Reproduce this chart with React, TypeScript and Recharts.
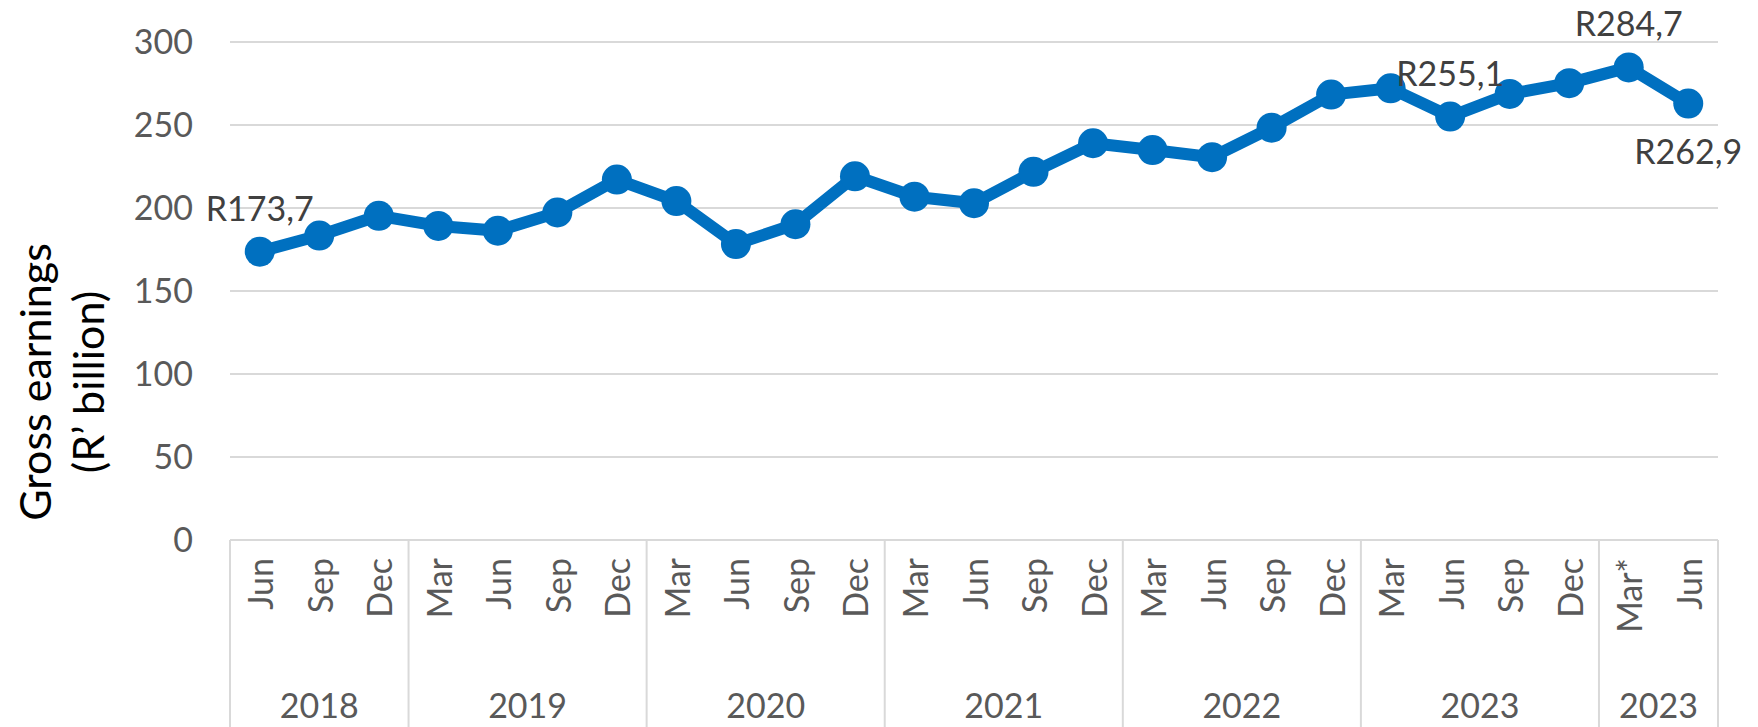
import { CartesianGrid, LabelList, Line, LineChart, XAxis, YAxis } from "recharts";

const months = [
  "Jun", "Sep", "Dec",
  "Mar", "Jun", "Sep", "Dec",
  "Mar", "Jun", "Sep", "Dec",
  "Mar", "Jun", "Sep", "Dec",
  "Mar", "Jun", "Sep", "Dec",
  "Mar", "Jun", "Sep", "Dec",
  "Mar*", "Jun",
];
const yearGroups = ["2018", "2019", "2020", "2021", "2022", "2023", "2023"];
const groupSizes = [3, 4, 4, 4, 4, 4, 2];
const earnings = [
  173.7, 183.4, 195.3, 189.2, 186.3, 197.3, 217.1, 204.2, 178.3, 190.2, 219.1, 206.8, 202.9,
  221.8, 239.0, 234.9, 230.6, 248.4, 268.3, 272.1, 255.1, 268.7, 275.2, 284.7, 262.9,
];
const yTicks = [0, 50, 100, 150, 200, 250, 300];

const data = earnings.map((value, i) => ({ id: i, value }));

const groupStarts: number[] = [];
groupSizes.reduce((start, size) => {
  groupStarts.push(start);
  return start + size;
}, 0);

const W = 1758;
const H = 727;
const PLOT_LEFT = 230;
const PLOT_RIGHT = 1718;
const PLOT_TOP = 42;
const AXIS_H = 187;
const PAD = (PLOT_RIGHT - PLOT_LEFT) / (months.length * 2);
const STEP = PAD * 2;

const FONT = "Lato, 'Open Sans', sans-serif";
const GREY = "#595959";
const RULE = "#d9d9d9";
const BLUE = "#0070C0";

// which points carry a value label, and on which side
const labelled: Record<number, "top" | "bottom"> = { 0: "top", 20: "top", 23: "top", 24: "bottom" };

function CategoryTick(props: any) {
  const { x, y, payload } = props;
  const i: number = payload?.index ?? props.index;
  const g = groupStarts.indexOf(i);
  const half = STEP / 2;
  return (
    <g>
      <text
        x={x}
        y={y + 18}
        transform={`rotate(-90, ${x}, ${y + 18})`}
        textAnchor="end"
        dominantBaseline="central"
        fill={GREY}
        fontSize={34}
        fontFamily={FONT}
      >
        {months[i]}
      </text>
      {g >= 0 && (
        <>
          <line x1={x - half} x2={x - half} y1={y} y2={y + AXIS_H} stroke={RULE} strokeWidth={2} />
          <text
            x={x - half + (groupSizes[g] * STEP) / 2}
            y={y + 164}
            textAnchor="middle"
            dominantBaseline="central"
            fill={GREY}
            fontSize={34}
            fontFamily={FONT}
          >
            {yearGroups[g]}
          </text>
        </>
      )}
      {i === months.length - 1 && (
        <line x1={x + half} x2={x + half} y1={y} y2={y + AXIS_H} stroke={RULE} strokeWidth={2} />
      )}
    </g>
  );
}

function PointLabel(props: any) {
  const { x, y, value, index } = props;
  const pos = labelled[index];
  if (!pos) return null;
  return (
    <text
      x={x}
      y={pos === "top" ? y - 31 : y + 60}
      textAnchor="middle"
      fill="#404040"
      fontSize={34}
      fontFamily={FONT}
    >
      {`R${Number(value).toFixed(1).replace(".", ",")}`}
    </text>
  );
}

function AxisTitle() {
  return (
    <text
      transform="translate(60, 382) rotate(-90)"
      textAnchor="middle"
      dominantBaseline="central"
      fill="#000"
      fontSize={43}
      fontFamily={FONT}
    >
      <tspan x={0} y={-26}>Gross earnings</tspan>
      <tspan x={0} y={27}>(R’ billion)</tspan>
    </text>
  );
}

export default function App() {
  return (
    <div style={{ position: "absolute", left: 0, top: 0, width: W, height: H, background: "#fff" }}>
      <LineChart
        width={W}
        height={H}
        data={data}
        margin={{ top: PLOT_TOP, right: W - PLOT_RIGHT, left: 0, bottom: 0 }}
      >
        <CartesianGrid vertical={false} stroke={RULE} strokeWidth={2} />
        <XAxis
          dataKey="id"
          type="category"
          interval={0}
          padding={{ left: PAD, right: PAD }}
          height={AXIS_H}
          axisLine={{ stroke: RULE, strokeWidth: 2 }}
          tickLine={false}
          tickSize={0}
          tickMargin={0}
          tick={<CategoryTick />}
        />
        <YAxis
          width={PLOT_LEFT}
          domain={[0, 300]}
          ticks={yTicks}
          axisLine={false}
          tickLine={false}
          tickSize={0}
          tickMargin={37}
          tick={{ fill: GREY, fontSize: 34, fontFamily: FONT }}
          label={{ content: () => <AxisTitle /> }}
        />
        <Line
          dataKey="value"
          stroke={BLUE}
          strokeWidth={12}
          strokeLinejoin="round"
          dot={{ r: 15, fill: BLUE, stroke: "none" }}
          activeDot={false}
          isAnimationActive={false}
        >
          <LabelList dataKey="value" content={<PointLabel />} />
        </Line>
      </LineChart>
    </div>
  );
}
